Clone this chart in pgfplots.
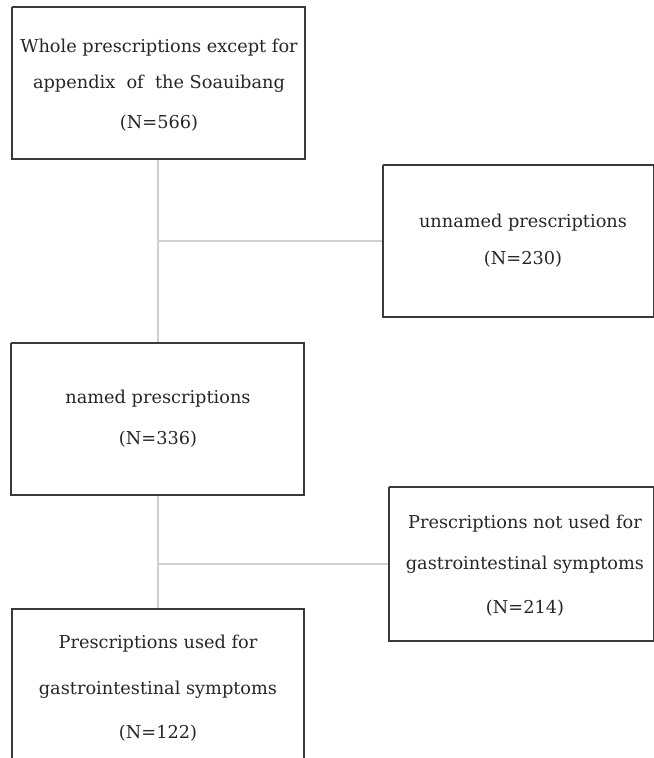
\documentclass[border=0pt]{standalone}
\usepackage{fontspec}
\setmainfont{DejaVu Serif}
\usepackage{pgfplots}
\pgfplotsset{compat=1.18}
\definecolor{boxc}{HTML}{3A3A3A}
\definecolor{linec}{HTML}{CFCFCF}
\begin{document}
\begin{tikzpicture}
\begin{axis}[
  width=490.5pt, height=568.5pt, scale only axis,
  xmin=0, xmax=654, ymin=0, ymax=758, y dir=reverse,
  axis lines=none, clip=true,
]
% connector lines
\addplot[linec, line width=1.5pt] coordinates {(158,159) (158,343)};
\addplot[linec, line width=1.5pt] coordinates {(158,241) (383,241)};
\addplot[linec, line width=1.5pt] coordinates {(158,495) (158,609)};
\addplot[linec, line width=1.5pt] coordinates {(158,564) (389,564)};
% boxes
\addplot[boxc, line width=0.9pt] coordinates {(12,7) (305,7) (305,159) (12,159) (12,7)};
\addplot[boxc, line width=0.9pt] coordinates {(383,165) (654,165) (654,317) (383,317) (383,165)};
\addplot[boxc, line width=0.9pt] coordinates {(11,343) (304,343) (304,495) (11,495) (11,343)};
\addplot[boxc, line width=0.9pt] coordinates {(389,487) (654,487) (654,641) (389,641) (389,487)};
\addplot[boxc, line width=0.9pt] coordinates {(12,770) (12,609) (304,609) (304,770)};
% texts
\begin{scope}[every node/.style={font=\fontsize{13.3pt}{15pt}\selectfont, text=black!85}]
\node at (axis cs:159,48) {Whole prescriptions except for};
\node at (axis cs:159,84) {appendix\ \ of\ \ the Soauibang};
\node at (axis cs:159,123) {(N=566)};
\node at (axis cs:523,223) {unnamed prescriptions};
\node at (axis cs:523,259) {(N=230)};
\node at (axis cs:158,399) {named prescriptions};
\node at (axis cs:158,439) {(N=336)};
\node at (axis cs:525,524) {Prescriptions not used for};
\node at (axis cs:525,565) {gastrointestinal symptoms};
\node at (axis cs:525,608) {(N=214)};
\node at (axis cs:158,644) {Prescriptions used for};
\node at (axis cs:158,690) {gastrointestinal symptoms};
\node at (axis cs:158,733) {(N=122)};
\end{scope}
\end{axis}
\path[use as bounding box] (current axis.south west) rectangle (current axis.north east);
\end{tikzpicture}
\end{document}
